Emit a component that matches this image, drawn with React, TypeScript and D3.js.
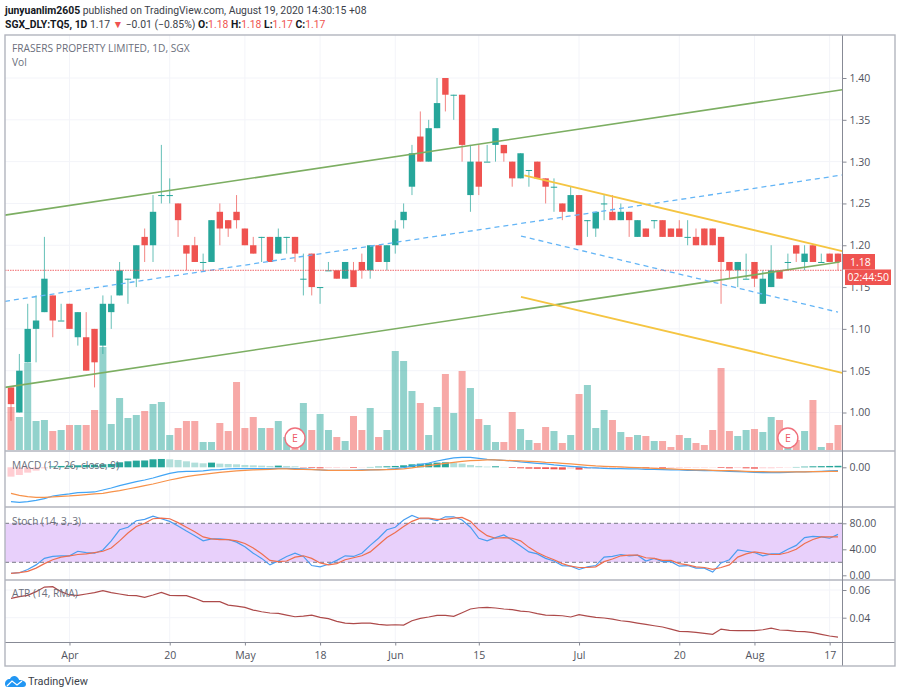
import { useEffect, useRef } from "react";
import * as d3 from "d3";

// daily candles, Mar 2020 -> 19 Aug 2020
const opens = [1.03,1.00,1.06,1.10,1.12,1.14,1.11,1.13,1.09,1.09,1.10,1.08,1.12,1.14,1.16,1.16,1.21,1.20,1.26,1.26,1.25,1.20,1.20,1.18,1.18,1.24,1.23,1.24,1.22,1.20,1.21,1.21,1.19,1.21,1.21,1.16,1.19,1.15,1.17,1.17,1.16,1.17,1.18,1.17,1.20,1.18,1.20,1.23,1.27,1.33,1.30,1.34,1.40,1.38,1.38,1.26,1.30,1.30,1.32,1.32,1.30,1.28,1.29,1.30,1.28,1.27,1.25,1.24,1.26,1.23,1.22,1.25,1.24,1.23,1.24,1.21,1.22,1.23,1.23,1.22,1.22,1.21,1.21,1.22,1.22,1.21,1.18,1.17,1.16,1.18,1.13,1.15,1.17,1.18,1.20,1.18,1.20,1.18,1.19,1.19];
const highs = [1.03,1.07,1.13,1.14,1.21,1.14,1.13,1.13,1.12,1.12,1.10,1.14,1.14,1.18,1.16,1.20,1.22,1.26,1.32,1.28,1.25,1.20,1.21,1.19,1.23,1.25,1.23,1.26,1.22,1.21,1.21,1.21,1.22,1.21,1.21,1.19,1.19,1.15,1.18,1.17,1.18,1.18,1.19,1.20,1.20,1.20,1.23,1.25,1.32,1.36,1.35,1.40,1.40,1.38,1.38,1.32,1.32,1.32,1.34,1.32,1.30,1.31,1.29,1.30,1.28,1.28,1.25,1.27,1.26,1.23,1.24,1.26,1.26,1.25,1.24,1.23,1.22,1.23,1.23,1.22,1.23,1.23,1.22,1.22,1.22,1.21,1.18,1.18,1.19,1.18,1.17,1.20,1.17,1.19,1.20,1.20,1.20,1.19,1.19,1.19];
const lows = [0.99,1.00,1.06,1.06,1.12,1.09,1.11,1.10,1.08,1.05,1.03,1.07,1.10,1.14,1.13,1.15,1.18,1.18,1.25,1.25,1.21,1.17,1.18,1.17,1.18,1.20,1.21,1.22,1.20,1.19,1.18,1.18,1.19,1.19,1.18,1.14,1.14,1.13,1.17,1.16,1.16,1.15,1.16,1.16,1.18,1.17,1.19,1.22,1.26,1.30,1.30,1.34,1.36,1.35,1.30,1.24,1.26,1.30,1.30,1.30,1.27,1.28,1.27,1.28,1.25,1.24,1.23,1.24,1.20,1.21,1.21,1.23,1.23,1.23,1.21,1.21,1.21,1.22,1.21,1.21,1.21,1.20,1.20,1.20,1.20,1.13,1.16,1.15,1.16,1.15,1.13,1.15,1.16,1.17,1.18,1.17,1.18,1.18,1.18,1.17];
const closes = [1.01,1.05,1.10,1.11,1.16,1.11,1.11,1.10,1.12,1.05,1.06,1.13,1.13,1.17,1.16,1.20,1.20,1.24,1.26,1.26,1.23,1.19,1.18,1.18,1.23,1.22,1.22,1.23,1.20,1.19,1.21,1.18,1.21,1.21,1.19,1.16,1.15,1.15,1.17,1.16,1.18,1.15,1.17,1.20,1.18,1.20,1.22,1.24,1.31,1.30,1.34,1.37,1.38,1.38,1.32,1.30,1.27,1.30,1.34,1.31,1.28,1.31,1.29,1.28,1.27,1.27,1.24,1.26,1.20,1.23,1.24,1.25,1.23,1.24,1.23,1.23,1.21,1.23,1.21,1.21,1.21,1.21,1.20,1.20,1.20,1.18,1.17,1.18,1.16,1.16,1.16,1.17,1.16,1.18,1.19,1.19,1.18,1.18,1.18,1.18];
const volumes = [43,33,87,29,30,19,20,25,25,25,40,103,26,52,32,35,39,46,48,15,22,29,29,8,8,27,19,68,22,33,22,22,29,13,8,47,20,36,20,13,9,34,20,42,13,20,99,89,59,47,15,43,76,37,79,62,31,25,8,8,38,21,10,7,23,19,7,15,56,65,22,40,30,18,13,15,14,9,9,3,15,12,7,5,20,82,19,14,20,21,18,33,30,2,10,19,50,3,7,25];

// MACD panel, in units of 0.0003
const macdLine = [-103,-105,-103,-99,-94,-86,-83,-80,-76,-75,-74,-68,-62,-55,-49,-43,-38,-32,-25,-18,-14,-12,-12,-11,-8,-7,-5,-4,-4,-4,-4,-4,-3,-3,-4,-5,-6,-8,-9,-9,-9,-9,-8,-8,-7,-6,-4,-1,4,8,13,19,24,28,30,30,27,24,22,21,19,16,14,12,10,7,5,3,1,-1,-2,-3,-4,-4,-5,-5,-6,-6,-7,-8,-8,-9,-9,-10,-10,-11,-12,-13,-14,-15,-16,-16,-16,-15,-14,-14,-13,-12,-11,-10];
const macdSignal = [-78,-84,-88,-90,-90,-89,-87,-86,-84,-82,-80,-78,-74,-70,-65,-60,-55,-50,-44,-38,-33,-28,-24,-21,-18,-15,-13,-11,-9,-8,-7,-6,-5,-5,-6,-6,-7,-8,-9,-9,-9,-9,-9,-8,-8,-7,-6,-5,-2,2,5,9,12,15,18,20,21,22,22,21,20,19,18,17,15,14,12,10,8,6,4,3,2,1,0,-1,-2,-3,-4,-5,-6,-7,-8,-8,-9,-10,-10,-11,-12,-13,-13,-14,-14,-14,-14,-14,-13,-13,-12,-12];
const macdHist = [-28,-23,-16,-10,-3,3,4,5,6,7,8,9,10,15,18,20,20.5,24,25,24,22,18,14,12,14,11,10,9,7,6,5,4,5,4,3,-1,-2,-3,-2,-2,-1,-2,-1,1,2,3,4,6,9,11,12,14,15,14,11,7,4,2,3,1,-2,-3,-4,-4.5,-5,-6,-7,-4,-7,-5,-4,-3,-3,-2.5,-2,-2,-3,-2,-3,-2,-2,-2,-1.5,-1.5,-1,-2,-3,-2,-3,-4,-3,-3,-2,-1,1,2,3,3.5,4,4.5];

const stochK = [3,4,9,16,26,29,30,30,37,35,34,39,53,70,74,84,86,91,87,83,76,68,61,53,56,56,55,51,44,34,26,16,22,29,34,29,15,13,17,23,30,29,34,46,57,70,74,85,92,87,87,84,90,90,85,74,57,53,58,62,54,45,36,33,26,22,15,14,9,13,15,28,29,32,30,31,22,26,21,21,14,15,11,11,5,19,24,39,37,35,30,33,33,40,46,58,60,59,57,63];
const stochD = [3,4,6,11,18,24,28,30,32,33,35,37,42,53,65,75,80,87,88,87,81,74,67,59,56,55,55,53,49,42,33,23,21,22,28,30,26,19,16,18,24,27,30,36,47,58,66,75,83,88,88,86,86,88,89,83,70,61,57,58,57,53,43,35,29,24,18,14,12,12,13,21,25,30,31,31,27,26,23,23,18,16,13,12,9,12,16,28,33,36,34,32,32,35,40,49,55,59,59,59];

const atr = [.0540,.0552,.0561,.0588,.0621,.0624,.0588,.0564,.0561,.0571,.0581,.0595,.0581,.0571,.0561,.0559,.0547,.0564,.0583,.0561,.0559,.0559,.0540,.0516,.0516,.0516,.0491,.0484,.0475,.0455,.0443,.0434,.0431,.0419,.0407,.0412,.0419,.0402,.0393,.0374,.0361,.0357,.0361,.0361,.0352,.0347,.0349,.0347,.0378,.0395,.0405,.0417,.0417,.0410,.0436,.0463,.0472,.0475,.0470,.0463,.0458,.0448,.0443,.0429,.0419,.0417,.0414,.0405,.0422,.0412,.0402,.0398,.0390,.0378,.0371,.0361,.0352,.0342,.0333,.0318,.0301,.0299,.0294,.0287,.0280,.0318,.0309,.0306,.0306,.0306,.0313,.0325,.0311,.0309,.0301,.0299,.0292,.0280,.0268,.0260];

const priceTicks = [1.0, 1.05, 1.1, 1.15, 1.2, 1.25, 1.3, 1.35, 1.4];
const timeTickBars = [7, 19, 28, 37, 46, 56, 68, 80, 89, 98];
const timeTickLabels = ["Apr", "20", "May", "18", "Jun", "15", "Jul", "20", "Aug", "17"];
const earningsBars = [34, 93];

// hand drawn trend lines: [bar, price, bar, price]
const greenLines = [[-0.72, 1.236, 99.5, 1.386], [-0.72, 1.03, 99.2, 1.18]];
const blueLines = [[-0.72, 1.133, 99.5, 1.284], [61.05, 1.211, 99, 1.12]];
const yellowLines = [[61.45, 1.2836, 99.5, 1.193], [61.05, 1.1384, 99.5, 1.0475]];

const UP = "#26a69a", DOWN = "#ef5350";
const FONT = "'Open Sans', sans-serif";
const HEAD_FONT = "Roboto, sans-serif";
const AXIS_TEXT = "#50535e";
const GRID = "#f3f4f9";
const SEP = "#b2b5be";

export default function App() {
  const ref = useRef<SVGSVGElement>(null);

  useEffect(() => {
    const el = ref.current;
    if (!el) return;
    const svg = d3.select(el);
    svg.selectAll("*").remove();

    const L = 5, R = 895, AX = 842.5, TOP = 35, P1 = 451, P2 = 507, P3 = 580, P4 = 642.5, BOT = 666;
    const bars = d3.range(closes.length);

    const x = d3.scaleLinear().domain([0, 99]).range([11, 838]);
    const y = d3.scaleLinear().domain([1.0, 1.4]).range([412.5, 78]);
    const yVol = d3.scaleLinear().domain([0, 100]).range([450, 350]);
    const yMacd = d3.scaleLinear().domain([0, -120]).range([467.3, 507.3]);
    const yStoch = d3.scaleLinear().domain([0, 100]).range([575.3, 510.3]);
    const yAtr = d3.scaleLinear().domain([0.04, 0.06]).range([617.7, 590]);

    svg.append("rect").attr("width", 900).attr("height", 696).attr("fill", "#fff");

    // grid
    const grid = svg.append("g").attr("stroke", GRID).attr("stroke-width", 1);
    timeTickBars.forEach((b) => grid.append("line").attr("x1", x(b)).attr("x2", x(b)).attr("y1", TOP).attr("y2", P4));
    priceTicks.forEach((t) => grid.append("line").attr("x1", L).attr("x2", AX).attr("y1", y(t)).attr("y2", y(t)));
    [0.04, 0.06].forEach((t) => grid.append("line").attr("x1", L).attr("x2", AX).attr("y1", yAtr(t)).attr("y2", yAtr(t)));

    // volume
    svg.append("g").selectAll("rect").data(bars).join("rect")
      .attr("x", (i) => x(i) - 3.5).attr("width", 7)
      .attr("y", (i) => yVol(volumes[i])).attr("height", (i) => yVol(0) - yVol(volumes[i]))
      .attr("fill", (i) => (closes[i] >= opens[i] ? UP : DOWN)).attr("opacity", 0.5);

    // candles
    const candles = svg.append("g");
    candles.selectAll("line").data(bars).join("line")
      .attr("x1", (i) => x(i)).attr("x2", (i) => x(i))
      .attr("y1", (i) => y(highs[i])).attr("y2", (i) => y(lows[i]))
      .attr("stroke", (i) => (closes[i] >= opens[i] ? UP : DOWN)).attr("stroke-width", 1).attr("opacity", 0.7);
    candles.selectAll("rect").data(bars).join("rect")
      .attr("x", (i) => x(i) - 3.2).attr("width", 6.4)
      .attr("y", (i) => y(Math.max(opens[i], closes[i])))
      .attr("height", (i) => Math.max(1, Math.abs(y(opens[i]) - y(closes[i]))))
      .attr("fill", (i) => (closes[i] >= opens[i] ? UP : DOWN));

    // trend lines
    const trend = (lines: number[][], color: string, width: number, dash: string) => {
      lines.forEach(([b0, p0, b1, p1]) => {
        svg.append("line").attr("x1", x(b0)).attr("y1", y(p0)).attr("x2", x(b1)).attr("y2", y(p1))
          .attr("stroke", color).attr("stroke-width", width).attr("stroke-dasharray", dash);
      });
    };
    trend(greenLines, "#7cae62", 1.6, "");
    trend(blueLines, "#64b5f6", 1.3, "5 4");
    trend(yellowLines, "#f5c542", 1.8, "");

    // last price line
    svg.append("line").attr("x1", L).attr("x2", AX).attr("y1", y(1.17)).attr("y2", y(1.17))
      .attr("stroke", "#f0555a").attr("stroke-width", 1.2).attr("stroke-dasharray", "1.5 1").attr("opacity", 0.7);

    // earnings badges
    earningsBars.forEach((b) => {
      svg.append("circle").attr("cx", x(b)).attr("cy", 438).attr("r", 10)
        .attr("fill", "#fff").attr("stroke", "#f0707c").attr("stroke-width", 1.4);
      svg.append("text").attr("x", x(b)).attr("y", 442).attr("text-anchor", "middle")
        .attr("fill", "#ee5a68").attr("font-size", 10.5).attr("font-family", FONT).text("E");
    });

    // MACD
    svg.append("g").selectAll("rect").data(bars).join("rect")
      .attr("x", (i) => x(i) - 3.5).attr("width", 7)
      .attr("y", (i) => Math.min(yMacd(macdHist[i]), yMacd(0)))
      .attr("height", (i) => Math.abs(yMacd(macdHist[i]) - yMacd(0)))
      .attr("fill", (i) => {
        const v = macdHist[i], prev = i ? macdHist[i - 1] : v;
        if (v >= 0) return v > prev ? UP : "#b2dfdb";
        return v < prev ? DOWN : "#ffcdd2";
      });
    const seriesLine = (scale: d3.ScaleLinear<number, number>, color: string, width = 1.2) => (vals: number[]) => {
      const line = d3.line<number>().x((_d, i) => x(i)).y((d) => scale(d));
      svg.append("path").datum(vals).attr("fill", "none").attr("stroke", color).attr("stroke-width", width).attr("d", line as any);
    };
    seriesLine(yMacd, "#42a5f5")(macdLine);
    seriesLine(yMacd, "#f7924a")(macdSignal);

    // Stoch
    svg.append("rect").attr("x", L).attr("width", AX - L).attr("y", yStoch(80)).attr("height", yStoch(20) - yStoch(80)).attr("fill", "#e8d0fb");
    [80, 20].forEach((t) => {
      svg.append("line").attr("x1", L).attr("x2", AX).attr("y1", yStoch(t)).attr("y2", yStoch(t))
        .attr("stroke", "#787b86").attr("stroke-dasharray", "4 3").attr("stroke-width", 1);
    });
    seriesLine(yStoch, "#4a9df0")(stochK);
    seriesLine(yStoch, "#ee6f4f")(stochD);

    // ATR
    seriesLine(yAtr, "#ad4a4a")(atr);

    // panel frame
    const frame = svg.append("g").attr("fill", "none");
    [P1, P2, P3].forEach((py) => frame.append("line").attr("x1", L).attr("x2", R).attr("y1", py).attr("y2", py).attr("stroke", SEP).attr("stroke-width", 1.6));
    frame.append("line").attr("x1", L).attr("x2", R).attr("y1", P4).attr("y2", P4).attr("stroke", "#878a95").attr("stroke-width", 1);
    frame.append("line").attr("x1", AX).attr("x2", AX).attr("y1", TOP).attr("y2", BOT).attr("stroke", "#878a95").attr("stroke-width", 1);
    frame.append("rect").attr("x", L).attr("y", TOP).attr("width", R - L).attr("height", BOT - TOP).attr("stroke", SEP).attr("stroke-width", 1.4);

    // axes
    const AXIS_SIZE = 10.5;
    const styleAxis = (g: d3.Selection<SVGGElement, unknown, null, undefined>) => {
      g.select(".domain").remove();
      g.selectAll("line").attr("stroke", "#878a95");
      g.selectAll("text").attr("fill", AXIS_TEXT).attr("font-size", AXIS_SIZE).attr("font-family", FONT);
    };
    const right = (scale: d3.ScaleLinear<number, number>, ticks: number[]) => {
      svg.append("g").attr("transform", `translate(${AX},0)`)
        .call(d3.axisRight(scale).tickValues(ticks).tickFormat(d3.format(".2f") as any).tickSize(4).tickPadding(3))
        .call(styleAxis as any);
    };
    right(y, priceTicks);
    right(yMacd, [0]);
    right(yStoch, [0, 40, 80]);
    right(yAtr, [0.04, 0.06]);
    svg.append("g").attr("transform", `translate(0,${P4})`)
      .call(d3.axisBottom(x).tickValues(timeTickBars).tickFormat((_d, i) => timeTickLabels[i]).tickSize(3).tickPadding(6))
      .call(styleAxis as any);

    // last price and countdown labels
    svg.append("rect").attr("x", 843).attr("y", 254).attr("width", 32).attr("height", 15.5).attr("fill", DOWN);
    svg.append("text").attr("x", 850).attr("y", 265.5).attr("fill", "#fff").attr("font-size", AXIS_SIZE).attr("font-family", FONT).text("1.18");
    svg.append("rect").attr("x", 845).attr("y", 269.5).attr("width", 46).attr("height", 15.5).attr("fill", DOWN);
    svg.append("text").attr("x", 847.5).attr("y", 281).attr("fill", "#fff").attr("font-size", AXIS_SIZE).attr("font-family", FONT).text("02:44:50");

    // pane titles
    const paneTitle = (tx: string, ty: number, color = "#6b6f7c") => {
      svg.append("text").attr("x", 12).attr("y", ty).attr("fill", color).attr("font-size", 10.2).attr("font-family", FONT).text(tx);
    };
    paneTitle("FRASERS PROPERTY LIMITED, 1D, SGX", 52);
    paneTitle("Vol", 66);
    paneTitle("MACD (12, 26, close, 9)", 469);
    paneTitle("Stoch (14, 3, 3)", 525);
    paneTitle("ATR (14, RMA)", 597);

    // header
    const h1 = svg.append("text").attr("x", 5).attr("y", 14).attr("fill", "#131722").attr("font-size", 10.4).attr("font-family", HEAD_FONT);
    h1.append("tspan").attr("font-weight", 700).text("junyuanlim2605");
    h1.append("tspan").attr("fill", "#3c3f4a").text(" published on TradingView.com, August 19, 2020 14:30:15 +08");

    const h2 = svg.append("text").attr("x", 5).attr("y", 28).attr("fill", "#131722").attr("font-size", 10.4).attr("font-family", HEAD_FONT);
    h2.append("tspan").attr("font-weight", 700).text("SGX_DLY:TQ5, 1D");
    h2.append("tspan").attr("fill", "#3c3f4a").text("  1.17 ");
    h2.append("tspan").attr("fill", DOWN).text("▼");
    h2.append("tspan").attr("fill", "#3c3f4a").text(" −0.01 (−0.85%) ");
    [["O:", "1.18"], ["H:", "1.18"], ["L:", "1.17"], ["C:", "1.17"]].forEach(([k, v]) => {
      h2.append("tspan").attr("font-weight", 700).text(k);
      h2.append("tspan").attr("fill", DOWN).text(v + " ");
    });

    // logo
    svg.append("path")
      .attr("d", "M5 684 C5 681 7 679 10 679 C11 676 15 675 17 677 C18 678 19 679 19 680 C23 680 26 682 26 684 C26 686 25 687 23 687 L8 687 C6 687 5 686 5 684 Z")
      .attr("fill", "#2196f3");
    svg.append("path").attr("d", "M7 686 L12 681 L17 685 L22 681").attr("fill", "none").attr("stroke", "#fff").attr("stroke-width", 1.2);
    svg.append("text").attr("x", 28).attr("y", 685).attr("fill", "#3c3f4a").attr("font-size", 10.9).attr("font-family", HEAD_FONT).text("TradingView");
  }, []);

  return <svg ref={ref} width={900} height={696} style={{ position: "absolute", left: 0, top: 0 }} role="img" aria-label="Frasers Property daily chart" />;
}
